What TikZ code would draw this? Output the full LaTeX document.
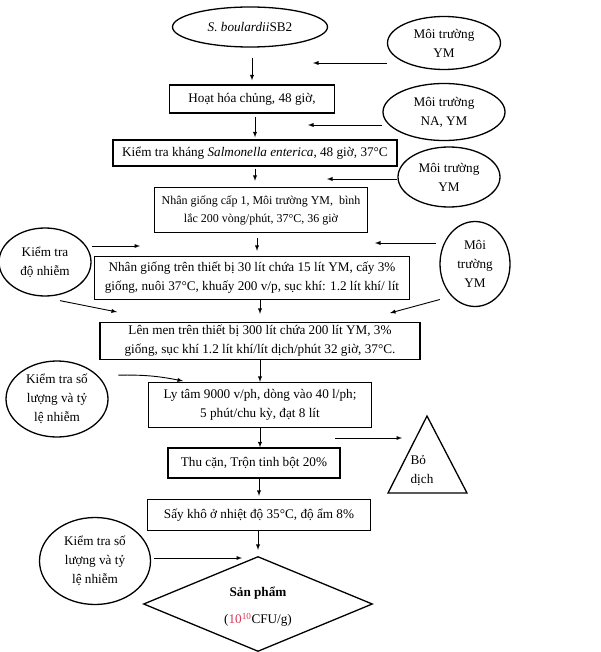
\documentclass[tikz,border=0pt]{standalone}
\usepackage{fontspec}
\setmainfont{Liberation Serif}
\usepackage{tikz}
\usetikzlibrary{shapes, calc, arrows}
\definecolor{sored}{RGB}{215,55,85}

\begin{document}
\begin{tikzpicture}[x=1pt, y=-1pt, line width=1.3pt,
	font=\fontsize{13.2}{19}\selectfont,
	buoc/.style={draw, rectangle, inner sep=0pt, align=center},
	moitruong/.style={draw, ellipse, inner sep=0pt, align=center},
	flow/.style={->, >=latex, line width=0.9pt}]

	\useasboundingbox (0,0) rectangle (600,652);

	
	\node[moitruong, minimum width=155pt, minimum height=40pt] (chung) at (250,27) {\textit{S. boulardii}SB2};
	\node[buoc, minimum width=165pt, minimum height=28pt] (hoathoa) at (252,99) {Hoạt hóa chủng, 48 giờ,};
	\node[buoc, minimum width=284pt, minimum height=26pt] (khang) at (255,153) {Kiểm tra kháng \textit{Salmonella enterica}, 48 giờ, 37°C};
	\node[buoc, minimum width=213pt, minimum height=45pt, font=\fontsize{12}{18}\selectfont] (cap1) at (261,210) {Nhân giống cấp 1, Môi trường YM,\ \ bình\\lắc 200 vòng/phút, 37°C, 36 giờ};
	\node[buoc, minimum width=315pt, minimum height=43pt] (tb30) at (252,278) {Nhân giống trên thiết bị 30 lít chứa 15 lít YM, cấy 3\%\\giống, nuôi 37°C, khuấy 200 v/p, sục khí: 1.2 lít khí/ lít};
	\node[buoc, minimum width=320pt, minimum height=37pt] (lenmen) at (260,341) {Lên men trên thiết bị 300 lít chứa 200 lít YM, 3\%\\giống, sục khí 1.2 lít khí/lít dịch/phút 32 giờ, 37°C.};
	\node[buoc, minimum width=223pt, minimum height=45pt] (lytam) at (260,405) {Ly tâm 9000 v/ph, dòng vào 40 l/ph;\\5 phút/chu kỳ, đạt 8 lít};
	\node[buoc, minimum width=172pt, minimum height=30pt] (thucan) at (254,463) {Thu cặn, Trộn tinh bột 20\%};
	\node[buoc, minimum width=223pt, minimum height=31pt] (saykho) at (259,515) {Sấy khô ở nhiệt độ 35°C, độ ẩm 8\%};
	\node[draw, diamond, aspect=2.4, inner sep=0pt, minimum width=229pt, minimum height=95pt] (sanpham) at (258,604) {};
	\node[align=center] (spchu) at (258,607) {\textbf{Sản phẩm}\\[8pt](\textcolor{sored}{10\textsuperscript{10}}CFU/g)};

	
	\node[moitruong, minimum width=113pt, minimum height=53pt] (ym1) at (444,43) {Môi trường\\YM};
	\node[moitruong, minimum width=122pt, minimum height=57pt] (nayem) at (444,112) {Môi trường\\NA, YM};
	\node[moitruong, minimum width=102pt, minimum height=60pt] (ym2) at (449,177) {Môi trường\\YM};
	\node[moitruong, minimum width=70pt, minimum height=85pt] (ym3) at (475,264) {Môi\\trường\\YM};
	\node[moitruong, minimum width=92pt, minimum height=68pt] (donhiem) at (45,262) {Kiểm tra\\độ nhiễm};
	\node[moitruong, minimum width=102pt, minimum height=76pt] (soluong1) at (57,399) {Kiểm tra số\\lượng và tỷ\\lệ nhiễm};
	\node[moitruong, minimum width=111pt, minimum height=87pt] (soluong2) at (95,561) {Kiểm tra số\\lượng và tỷ\\lệ nhiễm};

	\coordinate (bodinh) at (427,416);
	\draw (bodinh) -- ++(-39,77) -- ++(79,0) -- cycle;
	\node[align=left] (bodich) at (422,471) {Bỏ\\dịch};

	
	\coordinate (vao1) at (313,63);
	\coordinate (vao2) at (308,125);
	\coordinate (vao3) at (327,179);
	\coordinate (vao4) at (140,246);
	\coordinate (vao5) at (375,243);
	\coordinate (vao6) at (117,312);
	\coordinate (vao7) at (390,313);
	\coordinate (vao8) at (183,381);
	\coordinate (ra0) at (335,438);
	\coordinate (ra1) at (402,438);
	\coordinate (vao9) at (242,558);

	
	\draw[flow, shorten <=10pt, shorten >=4pt] (chung.south -| hoathoa.north) -- (hoathoa.north);
	\draw[flow, shorten <=3pt, shorten >=2pt] (khang.north |- hoathoa.south) -- (khang.north);
	\draw[flow, shorten <=2pt, shorten >=6pt] (khang.south) -- (khang.south |- cap1.north);
	\draw[flow, shorten <=5pt, shorten >=5pt] ([xshift=-4pt]cap1.south) -- ([xshift=-4pt]cap1.south |- tb30.north);
	\draw[flow, shorten >=8pt] (lenmen.north |- tb30.south) -- (lenmen.north);
	\draw[flow] (lenmen.south) -- (lytam.north);
	\draw[flow] (lytam.south) -- (lytam.south |- thucan.north);
	\draw[flow, shorten >=3pt] (saykho.north |- thucan.south) -- (saykho.north);
	\draw[flow, shorten >=6pt] (saykho.south -| sanpham.north) -- (sanpham.north);

	
	\draw[flow] (ym1.west |- vao1) -- (vao1);
	\draw[flow] (nayem.west |- vao2) -- (vao2);
	\draw[flow] (ym2.west |- vao3) -- (vao3);
	\draw[flow] (donhiem.east |- vao4) -- (vao4);
	\draw[flow, shorten <=3pt] (ym3.west |- vao5) -- (vao5);
	\draw[flow] ([xshift=15pt,yshift=-4pt]donhiem.south) -- (vao6);
	\draw[flow] ([xshift=-10pt,yshift=-5pt]ym3.south west) -- (vao7);
	\draw[flow] ([shift={(15pt,7pt)}]soluong1.20) to[bend left=6] (vao8);
	\draw[flow] (ra0) -- (ra1);
	\draw[flow, shorten <=3pt] (soluong2.east |- vao9) -- (vao9);
\end{tikzpicture}
\end{document}
